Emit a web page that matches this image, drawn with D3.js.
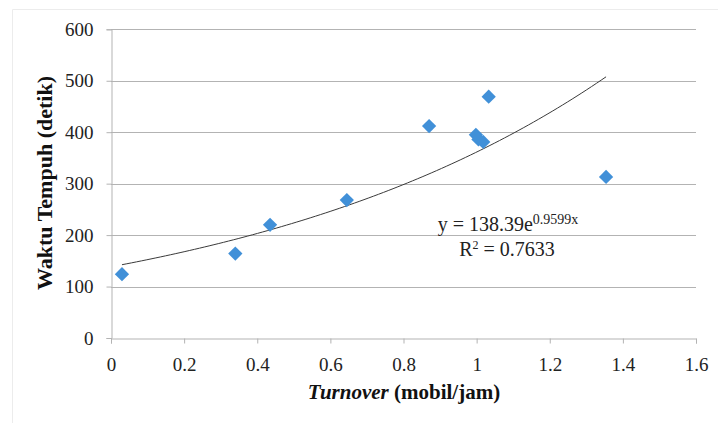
<!DOCTYPE html>
<html>
<head>
<meta charset="utf-8">
<script src="https://cdn.jsdelivr.net/npm/d3@7"></script>
<style>
  html, body { margin: 0; padding: 0; background: #fff; }
  svg { display: block; }
</style>
</head>
<body>
<svg id="chart" width="718" height="423"></svg>
<script>
// Observed turnover (mobil/jam) and travel time (detik)
const turnover = [0.03, 0.34, 0.435, 0.645, 0.87, 0.998, 1.005, 1.018, 1.033, 1.354];
const waktuTempuh = [124, 164, 220, 268, 412, 395, 386, 381, 469, 313];

// Exponential trend line coefficients: y = a * e^(b x)
const trendA = 138.39;
const trendB = 0.9599;
const rSquared = "0.7633";

const xTicks = [0, 0.2, 0.4, 0.6, 0.8, 1, 1.2, 1.4, 1.6];
const yTicks = [0, 100, 200, 300, 400, 500, 600];

const FONT = "Liberation Serif";
const TEXT_COLOR = "#222";

const svg = d3.select("#chart");

// light outer frame
svg.append("path")
  .attr("d", "M12.5,423 V9.5 H718")
  .attr("fill", "none")
  .attr("stroke", "#ececec")
  .attr("stroke-width", 1);

const x = d3.scaleLinear().domain([0, 1.6]).range([111, 696]);
const y = d3.scaleLinear().domain([0, 600]).range([338, 29.3]);

// horizontal gridlines
svg.append("g")
  .selectAll("line")
  .data(yTicks.filter(d => d > 0))
  .join("line")
  .attr("x1", x(0)).attr("x2", x(1.6))
  .attr("y1", d => Math.round(y(d)) + 0.5)
  .attr("y2", d => Math.round(y(d)) + 0.5)
  .attr("stroke", "#b3b3b3")
  .attr("stroke-width", 1);

function styleAxis(g) {
  g.attr("font-family", FONT).attr("font-size", 19);
  g.select(".domain").attr("stroke", "#b3b3b3");
  g.selectAll(".tick line").attr("stroke", "#b3b3b3");
  g.selectAll(".tick text").attr("fill", TEXT_COLOR);
}

// y axis
svg.append("g")
  .attr("transform", `translate(${x(0) + 0.5},0)`)
  .call(d3.axisLeft(y).tickValues(yTicks).tickSize(5).tickPadding(13).tickFormat(d3.format("d")))
  .call(styleAxis);

// x axis
svg.append("g")
  .attr("transform", `translate(0,${Math.round(y(0)) + 0.5})`)
  .call(d3.axisBottom(x).tickValues(xTicks).tickSize(5).tickPadding(14).tickFormat(d => String(d)))
  .call(styleAxis);

// exponential trend line across the observed range
const xMin = d3.min(turnover), xMax = d3.max(turnover);
const trendPts = d3.range(0, 101).map(i => {
  const xv = xMin + (xMax - xMin) * i / 100;
  return [xv, trendA * Math.exp(trendB * xv)];
});
svg.append("path")
  .datum(trendPts)
  .attr("d", d3.line().x(d => x(d[0])).y(d => y(d[1])))
  .attr("fill", "none")
  .attr("stroke", "#3a3a3a")
  .attr("stroke-width", 1);

// diamond markers
const diamond = d3.symbol().type(d3.symbolDiamond2).size(130);
svg.append("g")
  .selectAll("path")
  .data(turnover.map((t, i) => [t, waktuTempuh[i]]))
  .join("path")
  .attr("transform", d => `translate(${x(d[0])},${y(d[1])})`)
  .attr("d", diamond)
  .attr("fill", "#4190d8");

// trend equation
const eq = svg.append("text")
  .attr("x", 508).attr("y", 231)
  .attr("text-anchor", "middle")
  .attr("font-family", FONT).attr("font-size", 20).attr("fill", TEXT_COLOR);
eq.append("tspan").text(`y = ${trendA}e`);
eq.append("tspan").attr("dy", -7).attr("font-size", 14).text(`${trendB}x`);

const r2 = svg.append("text")
  .attr("x", 507).attr("y", 256)
  .attr("text-anchor", "middle")
  .attr("font-family", FONT).attr("font-size", 20).attr("fill", TEXT_COLOR);
r2.append("tspan").text("R");
r2.append("tspan").attr("dy", -7).attr("font-size", 12).text("2");
r2.append("tspan").attr("dy", 7).text(` = ${rSquared}`);

// axis titles
const xt = svg.append("text")
  .attr("x", 404).attr("y", 399)
  .attr("text-anchor", "middle")
  .attr("font-family", FONT).attr("font-size", 21)
  .attr("font-weight", "bold").attr("fill", "#111");
xt.append("tspan").attr("font-style", "italic").text("Turnover");
xt.append("tspan").text(" (mobil/jam)");

svg.append("text")
  .attr("transform", "translate(52,183) rotate(-90)")
  .attr("text-anchor", "middle")
  .attr("font-family", FONT).attr("font-size", 22)
  .attr("font-weight", "bold").attr("fill", "#111")
  .text("Waktu Tempuh (detik)");
</script>
</body>
</html>
